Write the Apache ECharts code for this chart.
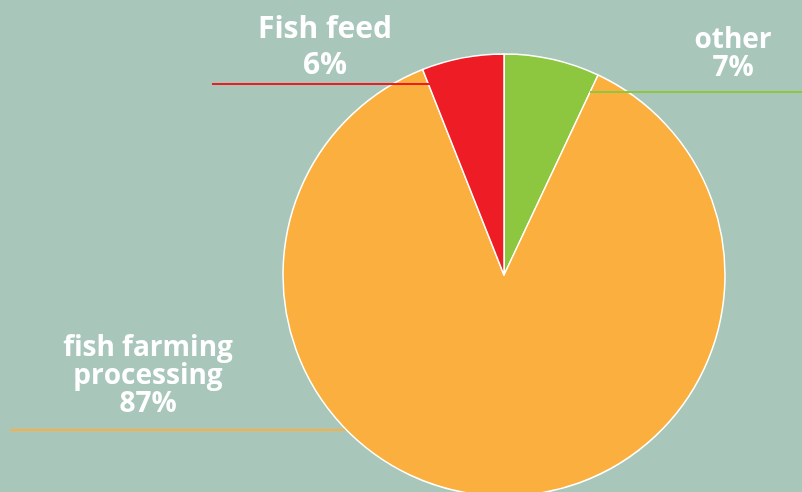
<!DOCTYPE html>
<html>
<head>
<meta charset="utf-8">
<style>
html,body{margin:0;padding:0;background:#A8C6BA;}
#c{width:802px;height:492px;}
</style>
<script src="https://cdn.jsdelivr.net/npm/echarts@6/dist/echarts.min.js"></script>
</head>
<body>
<div id="c"></div>
<script>
// Data
var categories = ['other', 'fish farming\nprocessing', 'Fish feed'];
var values = [7, 87, 6];
var colors = ['#8DC63F', '#FBAF3F', '#EE1C25'];

// Label layout (positions / sizes only)
// x,y: label anchor; size: font size; lh: line height;
// lineW: width of leader rule; padL/padR: blank space beside it; gap: row height before the rule
var labelPos = [
  {x: 733, y: 26, size: 28, lh: 28, lineW: 220, padL: 0, padR: 66, gap: 20},
  {x: 148, y: 334, size: 28, lh: 28, lineW: 335, padL: 59, padR: 0, gap: 24},
  {x: 325, y: 11, size: 30, lh: 36, lineW: 218, padL: 0, padR: 8, gap: 2}
];

var chart = echarts.init(document.getElementById('c'), null, {renderer: 'canvas'});

chart.setOption({
  backgroundColor: '#A8C6BA',
  animation: false,
  series: [{
    type: 'pie',
    center: [504, 275],
    radius: 221,
    startAngle: 90,
    clockwise: true,
    silent: true,
    data: categories.map(function (c, i) {
      var L = labelPos[i];
      return {
        name: c, value: values[i],
        itemStyle: {color: colors[i]},
        label: {
          rich: {
            t: {fontSize: L.size, lineHeight: L.lh, color: '#ffffff',
                fontFamily: 'Open Sans', fontWeight: 'bold'},
            ln: {width: L.lineW, height: 2, lineHeight: L.gap, backgroundColor: colors[i]},
            pl: {width: L.padL, height: 2, lineHeight: L.gap},
            pr: {width: L.padR, height: 2, lineHeight: L.gap}
          }
        }
      };
    }),
    itemStyle: {borderColor: '#ffffff', borderWidth: 1.5},
    label: {
      show: true,
      align: 'center',
      overflow: 'none',
      formatter: function (p) {
        var L = labelPos[p.dataIndex];
        var rows = p.name.split('\n').map(function (s) { return '{t|' + s + '}'; });
        rows.push('{t|' + p.percent.toFixed(0) + '%}');
        rows.push((L.padL ? '{pl|}' : '') + '{ln|}' + (L.padR ? '{pr|}' : ''));
        return rows.join('\n');
      }
    },
    labelLine: {show: false},
    labelLayout: function (p) {
      var L = labelPos[p.dataIndex];
      return {x: L.x, y: L.y, align: 'center', verticalAlign: 'top'};
    }
  }]
});
</script>
</body>
</html>
